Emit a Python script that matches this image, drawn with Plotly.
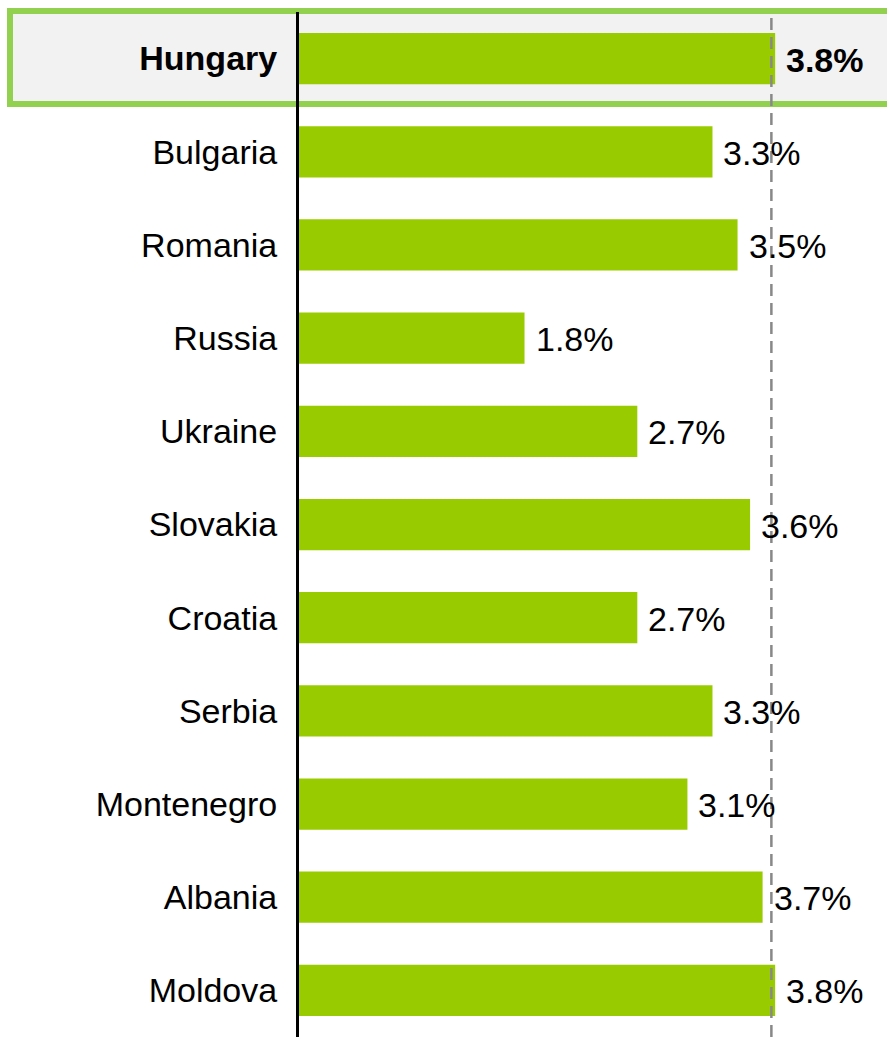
import plotly.graph_objects as go

countries = ["Hungary", "Bulgaria", "Romania", "Russia", "Ukraine", "Slovakia",
             "Croatia", "Serbia", "Montenegro", "Albania", "Moldova"]
values = [3.8, 3.3, 3.5, 1.8, 2.7, 3.6, 2.7, 3.3, 3.1, 3.7, 3.8]
highlight = "Hungary"
reference_value = 3.77

W, H = 887, 1037
ML, MT = 299, 12
plot_w = W - ML
plot_h = H - MT
px_per_unit = 125.3
font_family = "Liberation Sans, Arial, sans-serif"

ypos = list(range(len(countries)))
ticktext = [f"<b>{c}</b>" if c == highlight else c for c in countries]

fig = go.Figure(go.Bar(
    x=values, y=ypos, orientation="h",
    marker=dict(color="#99cc00", line=dict(width=0)),
    width=0.55, hoverinfo="skip",
))

for i, (c, v) in enumerate(zip(countries, values)):
    txt = f"{v:.1f}%"
    fig.add_annotation(
        x=v, y=i, xref="x", yref="y", text=f"<b>{txt}</b>" if c == highlight else txt,
        showarrow=False, xanchor="left", yanchor="middle", xshift=9, yshift=-1,
        font=dict(family=font_family, size=34, color="#000000"),
    )

# highlight band behind the selected country
def py_to_paper(py):
    return 1 - (py - MT) / plot_h
def px_to_paper(px):
    return (px - ML) / plot_w

fig.add_shape(
    type="rect", xref="paper", yref="paper", layer="below",
    x0=px_to_paper(10), x1=px_to_paper(892),
    y0=py_to_paper(104), y1=py_to_paper(11),
    fillcolor="#f2f2f2", line=dict(color="#92d050", width=6),
)

# reference line
fig.add_shape(
    type="line", xref="x", yref="paper", layer="above",
    x0=reference_value, x1=reference_value, y0=0, y1=1,
    line=dict(color="#888888", width=2.5, dash="12px,7px"),
)

fig.update_layout(
    width=W, height=H,
    margin=dict(l=ML, r=0, t=MT, b=0, pad=0),
    paper_bgcolor="white", plot_bgcolor="rgba(0,0,0,0)",
    showlegend=False,
    font=dict(family=font_family, size=34, color="#000000"),
    xaxis=dict(range=[0, plot_w / px_per_unit], visible=False, fixedrange=True),
    yaxis=dict(
        tickvals=ypos, ticktext=ticktext, autorange=False,
        range=[len(countries) - 0.5, -0.5],
        showline=True, linecolor="#000000", linewidth=3,
        showgrid=False, zeroline=False, ticks="",
        ticklabelstandoff=12,
        tickfont=dict(family=font_family, size=34, color="#000000"),
    ),
)

fig.write_html("out.html")
